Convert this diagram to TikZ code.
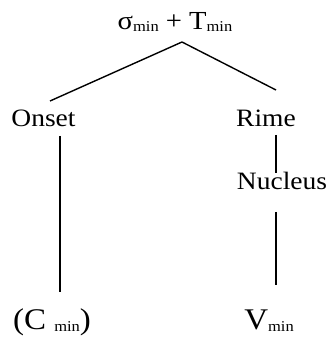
\documentclass[tikz,border=0pt]{standalone}
\usepackage{fontspec}
\setmainfont{Liberation Serif}
% lowered small text for the "min" subscripts
\newcommand{\lo}[1]{\raisebox{-2pt}{\fontsize{15}{15}\selectfont #1}}
\begin{document}
\begin{tikzpicture}[x=1pt,y=1pt,line width=1.4pt]
			\tikzstyle{lbl}=[inner sep=0pt,anchor=base,xscale=1.1,font=\fontsize{25}{30}\selectfont]
			\tikzstyle{leaf}=[lbl,font=\fontsize{30}{36}\selectfont]
			\useasboundingbox (0,0) rectangle (334,338);
			\begin{scope}
			\node[lbl,font=\fontsize{26}{30}\selectfont] (syl) at (175,308) {σ\lo{min} + T\lo{min}};
			\node[lbl] (onset) at (43.5,211) {Onset};
			\node[lbl] (rime) at (266,211) {Rime};
			\node[lbl] (nucleus) at (282,148) {Nucleus};
			\node[leaf] (cmin) at (52,9) {(C \lo{min})};
			\node[leaf] (vmin) at (269,9) {V\lo{min}};
			\end{scope}
			
			% line ends
			\coordinate (syl-b) at (182,296);
			\coordinate (onset-t) at (50,237);
			\coordinate (onset-b) at (60,202);
			\coordinate (rime-t) at (276,248);
			\coordinate (rime-b) at (276,203);
			\coordinate (nucleus-t) at (276,165);
			\coordinate (nucleus-b) at (276,126);
			\coordinate (cmin-t) at (60,46);
			\coordinate (vmin-t) at (276,53);
			
			\path[-]
			(syl-b) edge (onset-t)
			(syl-b) edge (rime-t)
			(onset-b) edge (cmin-t)
			(rime-b) edge (nucleus-t)
			(nucleus-b) edge (vmin-t)
			;
		\end{tikzpicture}
\end{document}
